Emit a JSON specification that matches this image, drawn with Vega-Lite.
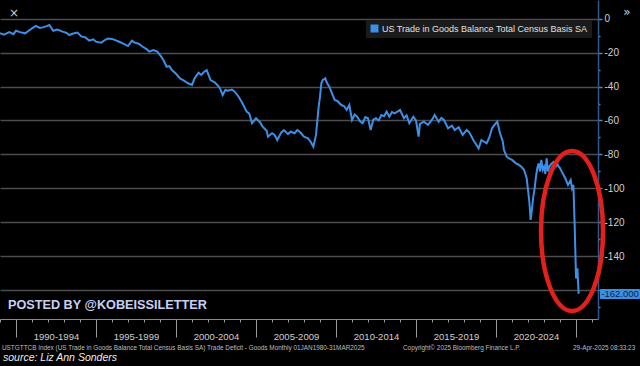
{
  "$schema": "https://vega.github.io/schema/vega-lite/v6.json",
  "width": 598,
  "height": 319,
  "autosize": {"type": "none"},
  "padding": {"left": 0, "top": 0, "right": 42, "bottom": 47},
  "background": "#000000",
  "config": {"view": {"stroke": null}, "font": "Liberation Sans, sans-serif"},
  "datasets": {
    "series": [
      {"date": "1989-01", "value": -8.7}, {"date": "1989-04", "value": -9.5}, {"date": "1989-08", "value": -8.0}, {"date": "1989-11", "value": -9.2},
      {"date": "1990-01", "value": -7.2}, {"date": "1990-04", "value": -8.0}, {"date": "1990-08", "value": -8.7}, {"date": "1990-10", "value": -7.5},
      {"date": "1991-01", "value": -5.8}, {"date": "1991-04", "value": -4.4}, {"date": "1991-07", "value": -5.5}, {"date": "1991-09", "value": -5.2}, {"date": "1991-12", "value": -4.5},
      {"date": "1992-02", "value": -3.8}, {"date": "1992-05", "value": -7.2}, {"date": "1992-08", "value": -6.5}, {"date": "1992-12", "value": -7.7},
      {"date": "1993-03", "value": -8.5}, {"date": "1993-05", "value": -9.7}, {"date": "1993-08", "value": -8.8}, {"date": "1993-11", "value": -8.3},
      {"date": "1994-02", "value": -10.5}, {"date": "1994-05", "value": -11.1}, {"date": "1994-08", "value": -13.0}, {"date": "1994-11", "value": -12.2},
      {"date": "1995-01", "value": -13.6}, {"date": "1995-05", "value": -14.2}, {"date": "1995-08", "value": -12.5}, {"date": "1995-10", "value": -11.7},
      {"date": "1996-01", "value": -12.0}, {"date": "1996-03", "value": -12.6}, {"date": "1996-06", "value": -13.5}, {"date": "1996-09", "value": -14.6},
      {"date": "1997-01", "value": -16.2}, {"date": "1997-04", "value": -13.0}, {"date": "1997-06", "value": -14.2}, {"date": "1997-09", "value": -14.8}, {"date": "1997-12", "value": -16.6},
      {"date": "1998-03", "value": -18.0}, {"date": "1998-05", "value": -19.5}, {"date": "1998-08", "value": -18.6}, {"date": "1998-11", "value": -19.5},
      {"date": "1999-02", "value": -22.5}, {"date": "1999-04", "value": -25.0}, {"date": "1999-06", "value": -28.4}, {"date": "1999-08", "value": -28.0}, {"date": "1999-10", "value": -30.3},
      {"date": "2000-01", "value": -32.5}, {"date": "2000-04", "value": -35.2}, {"date": "2000-07", "value": -36.5}, {"date": "2000-10", "value": -38.1},
      {"date": "2001-01", "value": -39.1}, {"date": "2001-03", "value": -35.2}, {"date": "2001-06", "value": -31.9}, {"date": "2001-08", "value": -33.2}, {"date": "2001-10", "value": -31.5}, {"date": "2001-12", "value": -30.3},
      {"date": "2002-03", "value": -36.2}, {"date": "2002-06", "value": -37.5}, {"date": "2002-08", "value": -39.1}, {"date": "2002-10", "value": -41.0}, {"date": "2002-12", "value": -45.0},
      {"date": "2003-02", "value": -42.0}, {"date": "2003-04", "value": -42.5}, {"date": "2003-07", "value": -41.8}, {"date": "2003-09", "value": -43.0}, {"date": "2003-12", "value": -46.0},
      {"date": "2004-03", "value": -50.0}, {"date": "2004-06", "value": -54.8}, {"date": "2004-08", "value": -56.0}, {"date": "2004-10", "value": -61.6},
      {"date": "2005-01", "value": -58.7}, {"date": "2005-04", "value": -61.0}, {"date": "2005-06", "value": -63.6}, {"date": "2005-09", "value": -66.0}, {"date": "2005-10", "value": -69.5},
      {"date": "2006-01", "value": -67.5}, {"date": "2006-03", "value": -68.5}, {"date": "2006-05", "value": -71.5}, {"date": "2006-08", "value": -67.0}, {"date": "2006-10", "value": -65.6},
      {"date": "2007-01", "value": -68.0}, {"date": "2007-03", "value": -66.6}, {"date": "2007-06", "value": -67.5}, {"date": "2007-08", "value": -65.6}, {"date": "2007-10", "value": -66.8},
      {"date": "2008-01", "value": -69.5}, {"date": "2008-04", "value": -70.5}, {"date": "2008-06", "value": -72.5}, {"date": "2008-08", "value": -75.4}, {"date": "2008-10", "value": -68.5}, {"date": "2008-11", "value": -60.0}, {"date": "2008-12", "value": -51.9},
      {"date": "2009-01", "value": -46.0}, {"date": "2009-02", "value": -38.0}, {"date": "2009-03", "value": -36.2}, {"date": "2009-05", "value": -35.2}, {"date": "2009-06", "value": -37.5}, {"date": "2009-08", "value": -40.1}, {"date": "2009-10", "value": -44.0}, {"date": "2009-12", "value": -47.9},
      {"date": "2010-02", "value": -48.5}, {"date": "2010-05", "value": -50.9}, {"date": "2010-07", "value": -51.5}, {"date": "2010-09", "value": -53.8}, {"date": "2010-11", "value": -50.9},
      {"date": "2011-01", "value": -59.7}, {"date": "2011-03", "value": -56.5}, {"date": "2011-05", "value": -57.8}, {"date": "2011-07", "value": -60.5}, {"date": "2011-09", "value": -61.6}, {"date": "2011-11", "value": -58.0},
      {"date": "2012-01", "value": -58.7}, {"date": "2012-03", "value": -65.6}, {"date": "2012-05", "value": -59.5}, {"date": "2012-07", "value": -58.7}, {"date": "2012-09", "value": -60.0}, {"date": "2012-11", "value": -56.8},
      {"date": "2013-01", "value": -57.5}, {"date": "2013-03", "value": -54.8}, {"date": "2013-05", "value": -57.8}, {"date": "2013-07", "value": -55.0}, {"date": "2013-09", "value": -55.8},
      {"date": "2014-01", "value": -53.8}, {"date": "2014-04", "value": -58.7}, {"date": "2014-06", "value": -57.0}, {"date": "2014-08", "value": -61.6}, {"date": "2014-11", "value": -57.8},
      {"date": "2015-01", "value": -60.0}, {"date": "2015-03", "value": -69.5}, {"date": "2015-04", "value": -62.0}, {"date": "2015-07", "value": -60.7}, {"date": "2015-10", "value": -62.6},
      {"date": "2016-01", "value": -59.5}, {"date": "2016-03", "value": -56.8}, {"date": "2016-06", "value": -60.7}, {"date": "2016-08", "value": -58.5}, {"date": "2016-10", "value": -59.7},
      {"date": "2017-01", "value": -64.6}, {"date": "2017-04", "value": -63.0}, {"date": "2017-06", "value": -65.6}, {"date": "2017-09", "value": -64.0}, {"date": "2017-12", "value": -68.5},
      {"date": "2018-03", "value": -65.6}, {"date": "2018-05", "value": -67.0}, {"date": "2018-08", "value": -71.5}, {"date": "2018-10", "value": -74.0}, {"date": "2018-12", "value": -76.4},
      {"date": "2019-02", "value": -71.5}, {"date": "2019-04", "value": -72.5}, {"date": "2019-06", "value": -73.4}, {"date": "2019-08", "value": -70.0}, {"date": "2019-10", "value": -64.6}, {"date": "2019-12", "value": -62.5},
      {"date": "2020-02", "value": -60.7}, {"date": "2020-04", "value": -67.5}, {"date": "2020-06", "value": -72.0}, {"date": "2020-07", "value": -77.4}, {"date": "2020-09", "value": -81.3}, {"date": "2020-11", "value": -82.5},
      {"date": "2021-01", "value": -83.2}, {"date": "2021-04", "value": -85.2}, {"date": "2021-06", "value": -86.0}, {"date": "2021-08", "value": -87.2}, {"date": "2021-10", "value": -89.0}, {"date": "2021-12", "value": -94.0},
      {"date": "2022-01", "value": -100.9}, {"date": "2022-02", "value": -108.0}, {"date": "2022-03", "value": -118.5}, {"date": "2022-04", "value": -112.0}, {"date": "2022-05", "value": -104.8}, {"date": "2022-06", "value": -100.0},
      {"date": "2022-07", "value": -93.0}, {"date": "2022-08", "value": -88.0}, {"date": "2022-09", "value": -85.2}, {"date": "2022-10", "value": -90.0}, {"date": "2022-11", "value": -83.2}, {"date": "2022-12", "value": -89.0},
      {"date": "2023-01", "value": -87.2}, {"date": "2023-02", "value": -91.5}, {"date": "2023-03", "value": -82.2}, {"date": "2023-04", "value": -90.0}, {"date": "2023-05", "value": -87.2}, {"date": "2023-06", "value": -86.0},
      {"date": "2023-07", "value": -85.2}, {"date": "2023-08", "value": -84.5}, {"date": "2023-09", "value": -86.2}, {"date": "2023-10", "value": -87.0}, {"date": "2023-11", "value": -85.5}, {"date": "2023-12", "value": -87.2},
      {"date": "2024-01", "value": -88.0}, {"date": "2024-03", "value": -91.1}, {"date": "2024-05", "value": -94.0}, {"date": "2024-07", "value": -97.9}, {"date": "2024-09", "value": -95.0}, {"date": "2024-10", "value": -99.9}, {"date": "2024-11", "value": -97.9}, {"date": "2024-12", "value": -122.0},
      {"date": "2025-01", "value": -153.0}, {"date": "2025-02", "value": -147.0}, {"date": "2025-03", "value": -162.0}
    ],
    "footer": [
      {"date": "1989-02-15", "value": -193.8, "label": "USTGTTCB Index (US Trade in Goods Balance Total Census Basis SA) Trade Deficit - Goods  Monthly 01JAN1980-31MAR2025"},
      {"date": "2014-03-10", "value": -193.8, "label": "Copyright© 2025 Bloomberg Finance L.P."},
      {"date": "2024-10-24", "value": -193.8, "label": "29-Apr-2025 08:33:23"}
    ],
    "posted": [{"date": "1989-07-01", "value": -168.5, "label": "POSTED BY @KOBEISSILETTER"}],
    "source": [{"date": "1989-03-10", "value": -199.7, "label": "source: Liz Ann Sonders"}],
    "icons": [
      {"date": "1989-11-15", "value": 3.2, "label": "×"},
      {"date": "2028-03-10", "value": 3.8, "label": "»"}
    ],
    "tag": [{"date": "2026-07-01", "date2": "2029-01-01", "value": -159.1, "value2": -165.0, "mid": "2027-10-01", "last": -162.0, "label": "-162.000"}],
    "circle": [{"date": "2024-10-01", "value": -125}]
  },
  "encoding": {
    "x": {
      "field": "date", "type": "temporal",
      "scale": {"domain": [{"year": 1989, "month": 1, "date": 1}, {"year": 2026, "month": 5, "date": 17}]},
      "axis": {
        "title": null, "grid": false,
        "values": [{"year":1989},{"year":1990},{"year":1991},{"year":1992},{"year":1993},{"year":1994},{"year":1995},{"year":1996},{"year":1997},{"year":1998},{"year":1999},{"year":2000},{"year":2001},{"year":2002},{"year":2003},{"year":2004},{"year":2005},{"year":2006},{"year":2007},{"year":2008},{"year":2009},{"year":2010},{"year":2011},{"year":2012},{"year":2013},{"year":2014},{"year":2015},{"year":2016},{"year":2017},{"year":2018},{"year":2019},{"year":2020},{"year":2021},{"year":2022},{"year":2023},{"year":2024},{"year":2025},{"year":2026}],
        "tickSize": {"condition": {"test": "year(datum.value) % 5 == 0", "value": 18}, "value": 3},
        "tickColor": "#9a9a9a", "tickWidth": 1,
        "domainColor": "#8a8a8a", "domainWidth": 1,
        "labelExpr": "year(datum.value) % 5 == 0 && year(datum.value) < 2025 ? year(datum.value) + '-' + (year(datum.value) + 4) : ''",
        "labelOffset": 40, "labelPadding": -6,
        "labelColor": "#d0d0d0", "labelFontSize": 9.5,
        "labelOverlap": false, "labelBound": false, "labelFlush": false
      }
    },
    "y": {
      "field": "value", "type": "quantitative",
      "scale": {"domain": [-176.8, 10.9], "nice": false, "zero": false},
      "axis": {
        "orient": "right", "title": null,
        "values": [0, -10, -20, -30, -40, -50, -60, -70, -80, -90, -100, -110, -120, -130, -140, -150, -160, -170],
        "grid": true, "gridColor": "#4d4d4d", "gridWidth": 1.3,
        "gridOpacity": {"condition": {"test": "datum.value % 20 != 0", "value": 0}, "value": 1},
        "tickSize": {"condition": {"test": "datum.value % 20 != 0", "value": 2}, "value": 4},
        "tickColor": "#4a8ad0", "tickWidth": 1.5,
        "domainColor": "#2d5a8a", "domainWidth": 1.5,
        "labelExpr": "datum.value % 20 == 0 && datum.value > -160 ? toString(datum.value) : ''",
        "labelColor": "#d0d0d0", "labelFontSize": 10, "labelPadding": 2,
        "labelOverlap": false, "labelBound": false, "labelFlush": false
      }
    }
  },
  "layer": [
    {
      "data": {"name": "series"},
      "mark": {"type": "line", "strokeWidth": 2, "clip": true},
      "encoding": {
        "color": {
          "datum": "US Trade in Goods Balance Total Census Basis SA", "type": "nominal",
          "scale": {"range": ["#3d8fe6"]},
          "legend": {
            "title": null, "orient": "none", "legendX": 366, "legendY": 20,
            "fillColor": "#1b1b1b", "padding": 4,
            "symbolType": "square", "symbolSize": 64, "symbolFillColor": "#3d8fe6", "symbolStrokeWidth": 0,
            "labelColor": "#e0e0e0", "labelFontSize": 9, "labelOffset": 3, "labelLimit": 400
          }
        }
      }
    },
    {
      "data": {"name": "circle"},
      "mark": {"type": "point", "filled": false, "stroke": "#e3201b", "strokeWidth": 4.5, "opacity": 1, "size": 25600,
        "shape": "M0,-1C0.214,-1,0.3875,-0.552,0.3875,0C0.3875,0.552,0.214,1,0,1C-0.214,1,-0.3875,0.552,-0.3875,0C-0.3875,-0.552,-0.214,-1,0,-1Z"}
    },
    {
      "data": {"name": "tag"},
      "mark": {"type": "rect", "fill": "#3b8fe2", "cornerRadius": 1},
      "encoding": {"x2": {"field": "date2"}, "y": {"field": "value", "type": "quantitative"}, "y2": {"field": "value2"}}
    },
    {
      "data": {"name": "tag"},
      "mark": {"type": "text", "fill": "#0b2545", "fontSize": 9.5, "align": "center", "baseline": "middle"},
      "encoding": {"x": {"field": "mid", "type": "temporal"}, "y": {"field": "last", "type": "quantitative"}, "text": {"field": "label"}}
    },
    {
      "data": {"name": "footer"},
      "mark": {"type": "text", "fill": "#bdbdbd", "fontSize": 6.4, "align": "left", "baseline": "middle"},
      "encoding": {"text": {"field": "label"}}
    },
    {
      "data": {"name": "posted"},
      "mark": {"type": "text", "fill": "#c9cff2", "fontSize": 12.7, "fontWeight": "bold", "align": "left", "baseline": "middle"},
      "encoding": {"text": {"field": "label"}}
    },
    {
      "data": {"name": "source"},
      "mark": {"type": "text", "fill": "#eeeeee", "fontSize": 10.5, "fontStyle": "italic", "align": "left", "baseline": "middle"},
      "encoding": {"text": {"field": "label"}}
    },
    {
      "data": {"name": "icons"},
      "mark": {"type": "text", "fill": "#cccccc", "fontSize": 12, "align": "center", "baseline": "middle", "font": "DejaVu Sans, sans-serif"},
      "encoding": {"text": {"field": "label"}}
    }
  ]
}
